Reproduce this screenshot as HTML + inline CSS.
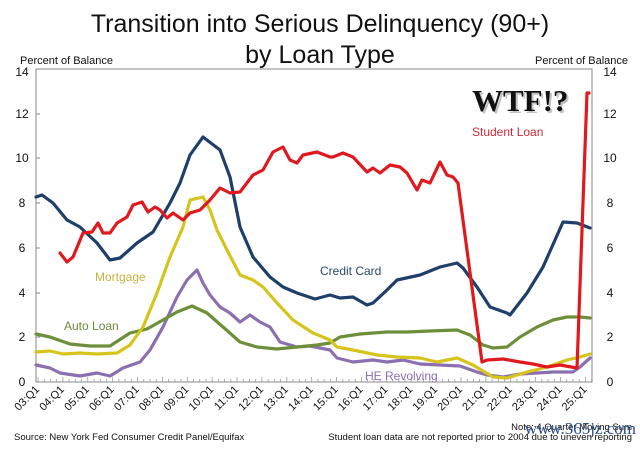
<!DOCTYPE html>
<html><head><meta charset="utf-8"><style>
body{margin:0;background:#fff;}
svg{display:block;font-family:"Liberation Sans",sans-serif;}
</style></head><body>
<svg width="640" height="460" viewBox="0 0 640 460">
<rect width="640" height="460" fill="#fff"/>
<text x="320" y="32" font-size="25" text-anchor="middle" fill="#111">Transition into Serious Delinquency (90+)</text>
<text x="320" y="63" font-size="25" text-anchor="middle" fill="#111">by Loan Type</text>
<text x="20" y="64" font-size="11" fill="#111">Percent of Balance</text>
<text x="628" y="64" font-size="11" fill="#111" text-anchor="end">Percent of Balance</text>
<rect x="36" y="69" width="556" height="313" fill="none" stroke="#888" stroke-width="1"/>
<g font-size="12" fill="#111">
<text x="22" y="386" text-anchor="middle">0</text><text x="22" y="341" text-anchor="middle">2</text><text x="22" y="297" text-anchor="middle">4</text><text x="22" y="252" text-anchor="middle">6</text><text x="22" y="207" text-anchor="middle">8</text><text x="22" y="162" text-anchor="middle">10</text><text x="22" y="118" text-anchor="middle">12</text><text x="22" y="76" text-anchor="middle">14</text>
<text x="610" y="386" text-anchor="middle">0</text><text x="610" y="341" text-anchor="middle">2</text><text x="610" y="297" text-anchor="middle">4</text><text x="610" y="252" text-anchor="middle">6</text><text x="610" y="207" text-anchor="middle">8</text><text x="610" y="162" text-anchor="middle">10</text><text x="610" y="118" text-anchor="middle">12</text><text x="610" y="76" text-anchor="middle">14</text>
</g>
<g stroke="#888" stroke-width="1">
<line x1="36" y1="337" x2="40" y2="337"/><line x1="36" y1="293" x2="40" y2="293"/><line x1="36" y1="248" x2="40" y2="248"/><line x1="36" y1="203" x2="40" y2="203"/><line x1="36" y1="158" x2="40" y2="158"/><line x1="36" y1="114" x2="40" y2="114"/>
</g>
<g id="tk" stroke="#999" stroke-width="0.8"></g>
<g font-size="11" fill="#111" id="xl"></g>
<g fill="none" stroke-width="3.2" stroke-linejoin="round" stroke-linecap="round">
<polyline stroke="#1f3f6b" points="36,197 42,195 53,203 67,220 80,227 97,243 110,260 120,258 137,243 153,232 170,203 180,183 190,155 203,137 220,150 230,177 240,227 253,257 270,277 283,287 297,293 315,299 330,295 340,298 353,297 367,305 373,303 387,290 397,280 420,275 440,267 457,263 463,268 477,287 490,307 507,313 510,315 527,293 543,267 563,222 577,223 590,228"/>
<polyline stroke="#8a70b0" points="36,365 50,368 60,373 80,376 97,373 110,376 123,368 140,362 150,350 163,327 177,297 187,280 197,270 203,283 210,295 220,307 230,313 240,322 250,315 260,322 270,327 280,342 297,347 310,346 330,350 337,358 353,362 373,360 387,362 403,360 420,364 440,365 460,366 477,372 487,375 503,377 520,374 537,373 553,372 573,372 580,367 590,358"/>
<polyline stroke="#6e8f3a" points="36,334 50,337 70,344 90,346 110,346 130,333 147,329 163,320 177,312 192,306 207,313 223,327 240,342 257,347 277,349 297,347 317,345 330,343 340,337 360,334 387,332 407,332 430,331 457,330 470,335 483,345 493,348 507,347 520,337 537,327 553,320 567,317 580,317 590,318"/>
<polyline stroke="#d6c41c" points="36,352 50,351 63,354 80,353 97,354 117,353 130,345 143,327 157,293 170,257 183,227 190,200 203,197 210,210 217,230 227,250 240,275 253,280 263,287 277,303 293,320 313,333 330,340 337,347 353,350 377,355 397,357 420,358 437,362 457,358 473,365 493,377 507,378 527,372 547,367 567,360 580,357 590,354"/>
<polyline stroke="#e0191e" points="60,253 67,262 73,257 83,233 92,232 98,223 103,233 110,233 117,223 127,217 133,205 142,202 148,212 155,207 160,210 167,218 173,213 183,220 190,213 200,210 210,200 220,188 230,193 240,192 253,175 263,170 273,152 283,147 290,160 297,163 303,155 317,152 330,157 333,157 343,153 353,157 367,172 373,168 380,173 390,165 400,167 407,173 417,190 422,180 430,183 440,162 447,175 453,177 458,183 482,362 487,360 503,359 520,362 533,364 547,367 560,365 577,368 587,93 589,93"/>
</g>
<text x="95" y="281" font-size="12" fill="#c4b440">Mortgage</text>
<text x="64" y="330" font-size="12" fill="#6e8a3a">Auto Loan</text>
<text x="320" y="275" font-size="12" fill="#2a4a70">Credit Card</text>
<text x="472" y="136" font-size="12" fill="#d02a3a">Student Loan</text>
<text x="365" y="380" font-size="12" fill="#8a70b0">HE Revolving</text>
<text x="474" y="113" font-size="31" font-weight="bold" font-family="Liberation Serif,serif" fill="#999" opacity="0.6">WTF!?</text>
<text x="472" y="111" font-size="31" font-weight="bold" font-family="Liberation Serif,serif" fill="#111">WTF!?</text>
<text x="14" y="440" font-size="9.5" fill="#111">Source: New York Fed Consumer Credit Panel/Equifax</text>
<text x="632" y="440" font-size="9.5" fill="#111" text-anchor="end">Student loan data are not reported prior to 2004 due to uneven reporting</text>
<text x="632" y="430" font-size="9.5" fill="#111" text-anchor="end">Note: 4 Quarter Moving Sum</text>
<text x="636" y="434" font-size="17" fill="#2a4f8a" text-anchor="end" font-family="Liberation Serif,serif">www.365jz.com</text>
<script>
var tk=document.getElementById('tk'),xl=document.getElementById('xl'),ns='http://www.w3.org/2000/svg';
for(var q=0;q<=89;q++){var x=38+q*6.22;var l=document.createElementNS(ns,'line');l.setAttribute('x1',x);l.setAttribute('x2',x);l.setAttribute('y1',382);l.setAttribute('y2',q%4==0?377:379);tk.appendChild(l);}
for(var y=3;y<=25;y++){var x=38+(y-3)*24.88;var t=document.createElementNS(ns,'text');t.setAttribute('transform','translate('+(x+2)+',390) rotate(-45)');t.setAttribute('text-anchor','end');t.textContent=(y<10?'0':'')+y+':Q1';xl.appendChild(t);}
</script>
</svg>
</body></html>
